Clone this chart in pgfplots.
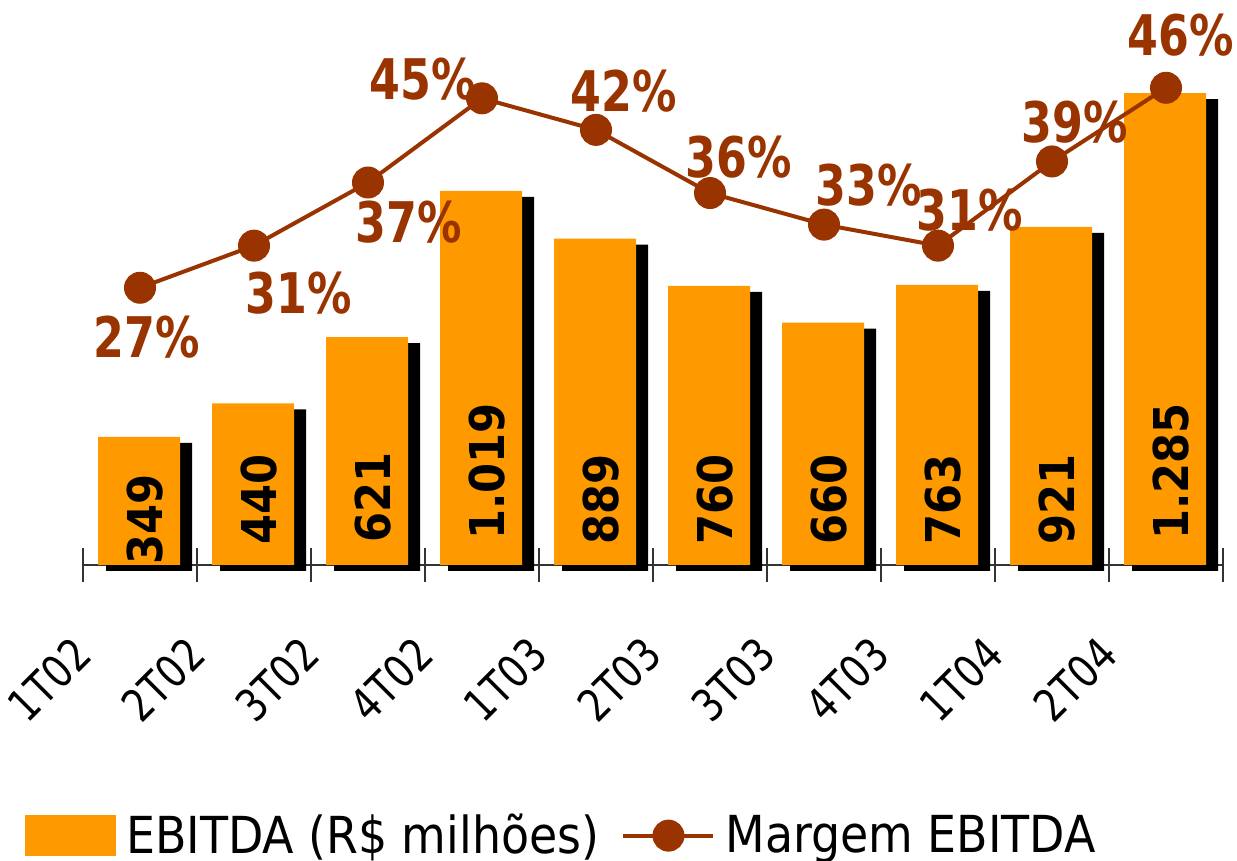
\documentclass[border=0pt]{standalone}
\usepackage{fontspec}
\setmainfont{DejaVu Sans Condensed}
\newfontfamily\labfont[FakeStretch=0.88]{DejaVu Sans Condensed Bold}
\newfontfamily\tickfont[FakeStretch=0.92]{DejaVu Sans Condensed}
\usepackage{pgfplots}
\pgfplotsset{compat=1.18}
\definecolor{barc}{HTML}{FF9900}
\definecolor{brn}{HTML}{993300}
\begin{document}
\begin{tikzpicture}
\begin{axis}[
  at={(0,0)}, anchor=south west,
  scale only axis, width=570pt, height=282.5pt,
  xmin=-0.5, xmax=9.5, ymin=0, ymax=1539,
  axis x line*=bottom, axis y line=none,
  xtick={-0.5,0.5,1.5,2.5,3.5,4.5,5.5,6.5,7.5,8.5,9.5},
  xticklabels={\mbox{1T02},\mbox{2T02},\mbox{3T02},\mbox{4T02},\mbox{1T03},\mbox{2T03},\mbox{3T03},\mbox{4T03},\mbox{1T04},\mbox{2T04},{}},
  xtick align=center, major tick length=17pt,
  every tick/.style={draw=black!80, line width=0.8pt},
  x axis line style={line width=0.8pt, draw=black!80},
  xticklabel style={rotate=45, anchor=east, inner sep=0pt, font=\tickfont\fontsize{22.5}{26}\selectfont},
  xticklabel shift=32pt,
  clip=false,
]
\addplot[ybar, bar width=43pt, bar shift=4.5pt, fill=black, draw=none, yshift=-3pt]
  coordinates {(0,349) (1,440) (2,621) (3,1019) (4,889) (5,760) (6,660) (7,763) (8,921) (9,1285)};
\addplot[ybar, bar width=41pt, bar shift=-0.5pt, fill=barc, draw=none]
  coordinates {(0,349) (1,440) (2,621) (3,1019) (4,889) (5,760) (6,660) (7,763) (8,921) (9,1285)};
\tikzset{bl/.style={rotate=90, anchor=west, inner sep=0pt, font=\bfseries\fontsize{24}{24}\selectfont}}
\node[bl] at (axis cs:0.04,0) {349};
\node[bl] at (axis cs:1.04,55) {440};
\node[bl] at (axis cs:2.04,60) {621};
\node[bl] at (axis cs:3.04,68) {1.019};
\node[bl] at (axis cs:4.04,55) {889};
\node[bl] at (axis cs:5.04,55) {760};
\node[bl] at (axis cs:6.04,55) {660};
\node[bl] at (axis cs:7.04,55) {763};
\node[bl] at (axis cs:8.04,55) {921};
\node[bl] at (axis cs:9.04,68) {1.285};
\end{axis}
\begin{axis}[
  at={(0,0)}, anchor=south west,
  scale only axis, width=570pt, height=282.5pt,
  xmin=-0.5, xmax=9.5, ymin=0.66, ymax=54.34,
  hide axis, clip=false,
  legend style={at={(axis description cs:-0.0509,-0.479)}, anchor=west, draw=none, fill=none,
    legend columns=-1, font=\fontsize{25.5}{28}\selectfont, inner sep=0pt,
    nodes={inner sep=0pt},
    /tikz/every odd column/.append style={column sep=5pt},
    /tikz/every even column/.append style={column sep=11pt}},
]
\addlegendimage{legend image code/.code={\fill[barc] (0pt,-10pt) rectangle (45pt,10pt);}}
\addlegendentry{EBITDA (R\$ milhões)}
\addplot[brn, line width=2pt, mark=*, mark size=7pt, mark options={fill=brn, draw=brn},
  legend image code/.code={\draw[brn, line width=2pt] (0pt,0pt) -- (45pt,0pt); \fill[brn] (22.5pt,0pt) circle (7pt);}]
  coordinates {(0,27) (1,31) (2,37) (3,45) (4,42) (5,36) (6,33) (7,31) (8,39) (9,46)};
\addlegendentry{Margem EBITDA}
\tikzset{pl/.style={text=brn, inner sep=0pt, font=\labfont\fontsize{28}{28}\selectfont}}
\node[pl, xshift=3.5pt, yshift=-24.5pt] at (axis cs:0,27) {27\%};
\node[pl, xshift=22.5pt, yshift=-23.5pt] at (axis cs:1,31) {31\%};
\node[pl, xshift=20.5pt, yshift=-20pt] at (axis cs:2,37) {37\%};
\node[pl, xshift=-29.5pt, yshift=9.5pt] at (axis cs:3,45) {45\%};
\node[pl, xshift=14pt, yshift=19.5pt] at (axis cs:4,42) {42\%};
\node[pl, xshift=14.5pt, yshift=18pt] at (axis cs:5,36) {36\%};
\node[pl, xshift=22.5pt, yshift=19.5pt] at (axis cs:6,33) {33\%};
\node[pl, xshift=16pt, yshift=18pt] at (axis cs:7,31) {31\%};
\node[pl, xshift=11.5pt, yshift=19.5pt] at (axis cs:8,39) {39\%};
\node[pl, xshift=7.5pt, yshift=26.5pt] at (axis cs:9,46) {46\%};
\end{axis}
\pgfresetboundingbox
\useasboundingbox (-41.5pt,-148pt) rectangle (577pt,282.5pt);
\end{tikzpicture}
\end{document}
